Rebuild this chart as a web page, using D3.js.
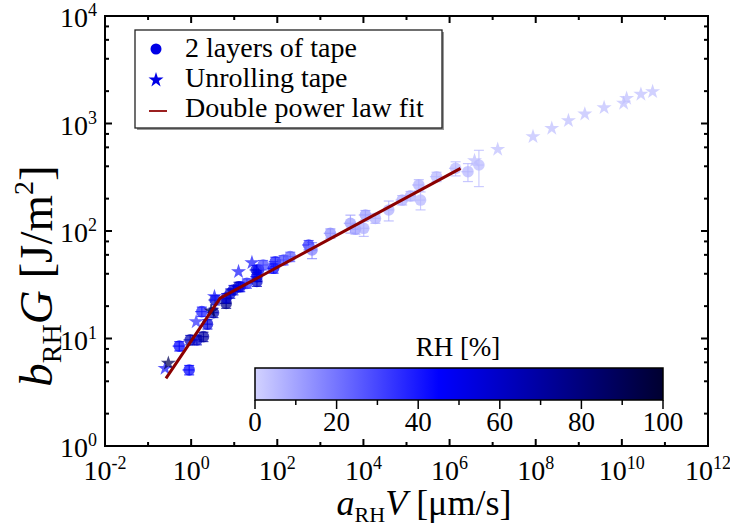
<!DOCTYPE html>
<html>
<head>
<meta charset="utf-8">
<script src="https://cdn.jsdelivr.net/npm/d3@7"></script>
<style>
  html, body { margin: 0; padding: 0; background: #fff; }
  text { font-family: "Liberation Serif", "Times New Roman", Times, "DejaVu Serif", serif; }
</style>
</head>
<body>
<svg id="chart" width="730" height="527"></svg>
<script>
// ---- data -------------------------------------------------------------
// 2 layers of tape: shifted velocity, shifted energy, relative humidity, errors (%)
const circV  = [0.90, 0.53, 0.95, 1.36, 1.93, 2.39, 1.77, 3.3, 3.6, 6.5, 6.5, 8.1, 12.6, 19.7, 9.6, 13.8,
                33.7, 32.5, 36.7, 47, 82, 90, 140, 200, 535, 641, 1710, 4990, 6520, 10170, 11130, 19000,
                38700, 79400, 124000, 193000, 212000, 499000, 1.38e6, 2.67e6, 4.8e6, 33.7];
const circG  = [5.1, 8.5, 9.7, 9.7, 10.4, 13.6, 17.8, 17.4, 22.8, 21.2, 23.8, 26.3, 30.3, 32.6, 28.3, 30.3,
                37.6, 43.4, 43.4, 48.3, 45, 51.8, 53.7, 57.7, 74.1, 66.6, 95.2, 118, 104, 106, 141, 131,
                157, 194, 212, 268, 194, 320, 383, 356, 411, 33.9];
const circRH = [45, 45, 65, 60, 70, 55, 40, 65, 60, 75, 55, 60, 65, 35, 55, 50,
                45, 55, 50, 30, 45, 40, 30, 25, 35, 18, 15, 12, 12, 8, 12, 8,
                8, 8, 8, 8, 6, 6, 6, 6, 5, 60];
const circGErrPct = [10, 10, 10, 10, 10, 10, 10, 10, 10, 10, 10, 10, 10, 10, 10, 10,
                     10, 10, 10, 10, 10, 10, 10, 10, 10, 17, 10, 19, 10, 16, 10, 10,
                     21, 10, 10, 12, 19, 10, 15, 19, 37, 10];
const circVErrPct = [30, 30, 30, 30, 30, 30, 30, 30, 30, 30, 30, 30, 30, 30, 30, 30,
                     30, 30, 30, 30, 30, 30, 30, 30, 30, 30, 30, 30, 30, 30, 30, 30,
                     30, 30, 30, 30, 30, 30, 30, 30, 30, 30];

// Unrolling tape
const starV  = [0.248, 0.296, 1.31, 2.92, 3.48, 12.6, 25.8, 3.8e6, 1.31e7, 8.65e7, 2.36e8, 5.75e8,
                1.38e9, 3.87e9, 1.1e10, 1.29e10, 2.77e10, 5.18e10];
const starG  = [5.28, 5.88, 14.3, 18.0, 24.5, 41.8, 50.7, 451, 575, 754, 902, 1062,
                1225, 1402, 1541, 1715, 1870, 1977];
const starRH = [40, 90, 35, 90, 40, 40, 40, 5, 4, 4, 4, 4, 4, 4, 4, 4, 4, 4];

// Double power law fit (vertices of the two branches)
const fitV = [0.26, 4.7, 1.8e6];
const fitG = [4.26, 23.7, 383];

// Axis ticks
const xMajorExp = [-2, 0, 2, 4, 6, 8, 10, 12];
const xMinorExp = [-1, 1, 3, 5, 7, 9, 11];
const yMajorExp = [0, 1, 2, 3, 4];
const yMinorMult = [2, 4, 6, 8];

// Colour bar
const rhStops  = [0, 45, 100];
const rhColors = ["#d2d2ff", "#0000ff", "#000030"];
const cbMajor  = [0, 20, 40, 60, 80, 100];
const cbMinor  = [10, 30, 50, 70, 90];

// ---- layout -----------------------------------------------------------
const svg = d3.select("#chart");
const L = 105, R = 708, T = 16, B = 446;

const x = d3.scaleLog().domain([1e-2, 1e12]).range([L, R]);
const y = d3.scaleLog().domain([1, 1e4]).range([B, T]);
const rhColor = d3.scaleLinear().domain(rhStops).range(rhColors).interpolate(d3.interpolateRgb).clamp(true);

const circles = circV.map((v, i) => ({ v, g: circG[i], rh: circRH[i], ge: circGErrPct[i] / 100, ve: circVErrPct[i] / 100 }));
const stars = starV.map((v, i) => ({ v, g: starG[i], rh: starRH[i] }));

// ---- data marks ------------------------------------------------------
const plot = svg.append("g");

// error bars
const eb = plot.append("g").attr("fill", "none").attr("stroke-width", 1.2);
circles.forEach(d => {
  const c = rhColor(d.rh);
  const cx = x(d.v), cy = y(d.g);
  const y0 = y(d.g * (1 - d.ge)), y1 = y(d.g * (1 + d.ge));
  const x0 = x(d.v * (1 - d.ve)), x1 = x(d.v * (1 + d.ve));
  const g = eb.append("g").attr("stroke", c).attr("stroke-opacity", 0.75);
  g.append("line").attr("x1", cx).attr("x2", cx).attr("y1", y0).attr("y2", y1);
  g.append("line").attr("x1", cx - 5).attr("x2", cx + 5).attr("y1", y0).attr("y2", y0);
  g.append("line").attr("x1", cx - 5).attr("x2", cx + 5).attr("y1", y1).attr("y2", y1);
  g.append("line").attr("x1", x0).attr("x2", x1).attr("y1", cy).attr("y2", cy);
});

plot.append("g").selectAll("circle").data(circles).join("circle")
  .attr("cx", d => x(d.v)).attr("cy", d => y(d.g)).attr("r", 5.8)
  .attr("fill", d => rhColor(d.rh)).attr("fill-opacity", 0.72);

const starSym = d3.symbol().type(d3.symbolStar).size(70);
plot.append("g").selectAll("path").data(stars).join("path")
  .attr("d", starSym)
  .attr("transform", d => `translate(${x(d.v)},${y(d.g)})`)
  .attr("fill", d => rhColor(d.rh)).attr("fill-opacity", 0.72);

// fit line
plot.append("path")
  .datum(fitV.map((v, i) => [v, fitG[i]]))
  .attr("d", d3.line().x(d => x(d[0])).y(d => y(d[1])))
  .attr("fill", "none").attr("stroke", "#8b0000").attr("stroke-width", 3);

// ---- axes frame & ticks ----------------------------------------------
const ax = svg.append("g").attr("stroke", "#000").attr("stroke-width", 2);
const majL = 7, minL = 4;
xMajorExp.forEach(e => {
  const px = x(Math.pow(10, e));
  ax.append("line").attr("x1", px).attr("x2", px).attr("y1", B).attr("y2", B - majL);
  ax.append("line").attr("x1", px).attr("x2", px).attr("y1", T).attr("y2", T + majL);
});
xMinorExp.forEach(e => {
  const px = x(Math.pow(10, e));
  ax.append("line").attr("x1", px).attr("x2", px).attr("y1", B).attr("y2", B - minL);
  ax.append("line").attr("x1", px).attr("x2", px).attr("y1", T).attr("y2", T + minL);
});
yMajorExp.forEach(e => {
  const py = y(Math.pow(10, e));
  ax.append("line").attr("x1", L).attr("x2", L + majL).attr("y1", py).attr("y2", py);
  ax.append("line").attr("x1", R).attr("x2", R - majL).attr("y1", py).attr("y2", py);
});
yMajorExp.slice(0, -1).forEach(e => {
  yMinorMult.forEach(m => {
    const py = y(m * Math.pow(10, e));
    ax.append("line").attr("x1", L).attr("x2", L + minL).attr("y1", py).attr("y2", py);
    ax.append("line").attr("x1", R).attr("x2", R - minL).attr("y1", py).attr("y2", py);
  });
});
ax.append("rect").attr("x", L).attr("y", T).attr("width", R - L).attr("height", B - T).attr("fill", "none");

// tick labels
const tl = svg.append("g").attr("font-size", 28).attr("fill", "#000");
xMajorExp.forEach(e => {
  const t = tl.append("text").attr("x", x(Math.pow(10, e))).attr("y", 480).attr("text-anchor", "middle");
  t.append("tspan").text("10");
  t.append("tspan").attr("font-size", 18).attr("dy", -11).text(e);
});
yMajorExp.forEach(e => {
  const t = tl.append("text").attr("x", 97).attr("y", y(Math.pow(10, e)) + 11).attr("text-anchor", "end");
  t.append("tspan").text("10");
  t.append("tspan").attr("font-size", 18).attr("dy", -11).text(e);
});

// axis titles
const xt = svg.append("text").attr("x", 424).attr("y", 515).attr("text-anchor", "middle").attr("font-size", 36);
xt.append("tspan").attr("font-style", "italic").text("a");
xt.append("tspan").attr("font-size", 22).attr("dy", 7).text("RH");
xt.append("tspan").attr("font-style", "italic").attr("dy", -7).text("V");
xt.append("tspan").text(" [μm/s]");

const yt = svg.append("text").attr("transform", "translate(52,276) rotate(-90)")
  .attr("text-anchor", "middle").attr("font-size", 47);
yt.append("tspan").attr("font-style", "italic").text("b");
yt.append("tspan").attr("font-size", 28).attr("dy", 9).text("RH");
yt.append("tspan").attr("font-style", "italic").attr("dy", -9).text("G");
yt.append("tspan").text(" [J/m");
yt.append("tspan").attr("font-size", 28).attr("dy", -19).text("2");
yt.append("tspan").attr("dy", 19).text("]");

// ---- legend ----------------------------------------------------------
const lg = svg.append("g");
lg.append("rect").attr("x", 137).attr("y", 32).attr("width", 307).attr("height", 98).attr("fill", "#999");
lg.append("rect").attr("x", 135).attr("y", 30).attr("width", 307).attr("height", 98)
  .attr("fill", "#fff").attr("stroke", "#222").attr("stroke-width", 1.3);
lg.append("circle").attr("cx", 156).attr("cy", 49).attr("r", 5.5).attr("fill", "#0000e6");
lg.append("path").attr("d", d3.symbol().type(d3.symbolStar).size(70)).attr("transform", "translate(156,80)").attr("fill", "#0000e6");
lg.append("line").attr("x1", 149).attr("x2", 167).attr("y1", 111).attr("y2", 111).attr("stroke", "#9b2020").attr("stroke-width", 2);
const legendText = ["2 layers of tape", "Unrolling tape", "Double power law fit"];
lg.selectAll("text.lt").data(legendText).join("text").attr("class", "lt")
  .attr("x", 185).attr("y", (d, i) => 57 + i * 30).attr("font-size", 28).text(d => d);

// ---- colour bar ------------------------------------------------------
const cbL = 255, cbR = 663, cbT = 368, cbB = 400;
const defs = svg.append("defs");
const grad = defs.append("linearGradient").attr("id", "rhGrad");
rhStops.forEach((s, i) => grad.append("stop").attr("offset", s + "%").attr("stop-color", rhColors[i]));
const cb = svg.append("g");
const cbx = d3.scaleLinear().domain([0, 100]).range([cbL, cbR]);
cb.append("rect").attr("x", cbL).attr("y", cbT).attr("width", cbR - cbL).attr("height", cbB - cbT)
  .attr("fill", "url(#rhGrad)").attr("stroke", "#000").attr("stroke-width", 1.5);
cbMajor.forEach(v => cb.append("line").attr("x1", cbx(v)).attr("x2", cbx(v)).attr("y1", cbB).attr("y2", cbB + 9).attr("stroke", "#000").attr("stroke-width", 1.5));
cbMinor.forEach(v => cb.append("line").attr("x1", cbx(v)).attr("x2", cbx(v)).attr("y1", cbB).attr("y2", cbB + 5).attr("stroke", "#000").attr("stroke-width", 1.5));
cb.selectAll("text.cbl").data(cbMajor).join("text").attr("class", "cbl")
  .attr("x", d => cbx(d)).attr("y", 431).attr("text-anchor", "middle").attr("font-size", 27).text(d => d);
cb.append("text").attr("x", 458).attr("y", 356).attr("text-anchor", "middle").attr("font-size", 27).text("RH [%]");
</script>
</body>
</html>
